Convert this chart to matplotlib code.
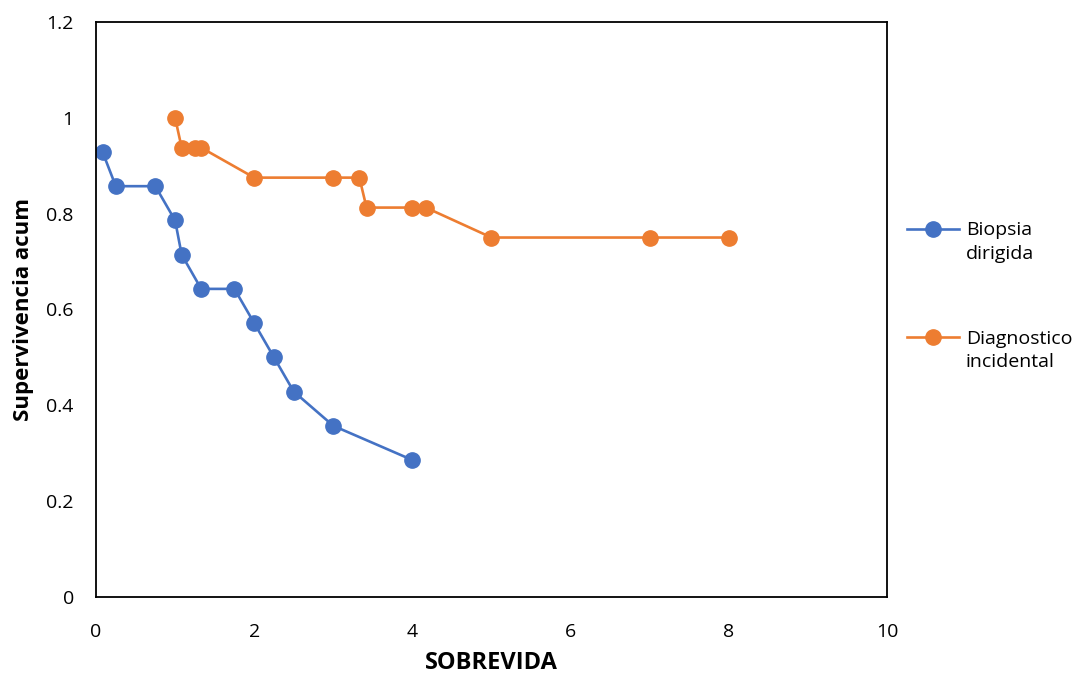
import matplotlib
matplotlib.use("Agg")
import matplotlib.pyplot as plt

plt.rcParams['font.family'] = ['Open Sans', 'DejaVu Sans']

# Data
biopsia_x = [0.083, 0.25, 0.75, 1.0, 1.083, 1.33, 1.75, 2.0, 2.25, 2.5, 3.0, 4.0]
biopsia_y = [13/14, 12/14, 12/14, 11/14, 10/14, 9/14, 9/14, 8/14, 7/14, 6/14, 5/14, 4/14]
diag_x = [1.0, 1.083, 1.25, 1.33, 2.0, 3.0, 3.33, 3.42, 4.0, 4.17, 5.0, 7.0, 8.0]
diag_y = [1.0, 15/16, 15/16, 15/16, 14/16, 14/16, 14/16, 13/16, 13/16, 13/16, 12/16, 12/16, 12/16]
labels = ["Biopsia\ndirigida", "Diagnostico\nincidental"]
xticks = [0, 2, 4, 6, 8, 10]
yticks = [0, 0.2, 0.4, 0.6, 0.8, 1.0, 1.2]
ytick_labels = ["0", "0.2", "0.4", "0.6", "0.8", "1", "1.2"]

fig = plt.figure(figsize=(10.75, 6.75), dpi=100)
ax = fig.add_axes([0.0893, 0.1156, 0.7358, 0.852])

blue = "#4472C4"
orange = "#ED7D31"
ax.plot(biopsia_x, biopsia_y, color=blue, lw=1.9, marker='o', ms=11, label=labels[0])
ax.plot(diag_x, diag_y, color=orange, lw=1.9, marker='o', ms=11, label=labels[1])

ax.set_xlim(0, 10)
ax.set_ylim(0, 1.2)
ax.set_xticks(xticks)
ax.set_xticklabels([str(v) for v in xticks])
ax.set_yticks(yticks)
ax.set_yticklabels(ytick_labels)
ax.tick_params(length=0, labelsize=14)
ax.tick_params(axis='x', pad=19)
ax.tick_params(axis='y', pad=16)
for s in ax.spines.values():
    s.set_color('black')
    s.set_linewidth(1.3)

ax.set_xlabel("SOBREVIDA", fontsize=17, fontweight='bold', labelpad=7)
ax.set_ylabel("Supervivencia acum", fontsize=16, fontweight='bold', labelpad=9)

leg = fig.legend(loc='center left', bbox_to_anchor=(0.827, 0.561), frameon=False,
                 fontsize=14, labelspacing=3.45, handlelength=2.7, handletextpad=0.35)
for t in leg.get_texts():
    t.set_linespacing(1.4)
# align legend markers with the first text line
for h in leg.legend_handles:
    yd = h.get_ydata()
    h.set_ydata([v + 9.7 for v in yd])

fig.savefig("out.png", dpi=100)
